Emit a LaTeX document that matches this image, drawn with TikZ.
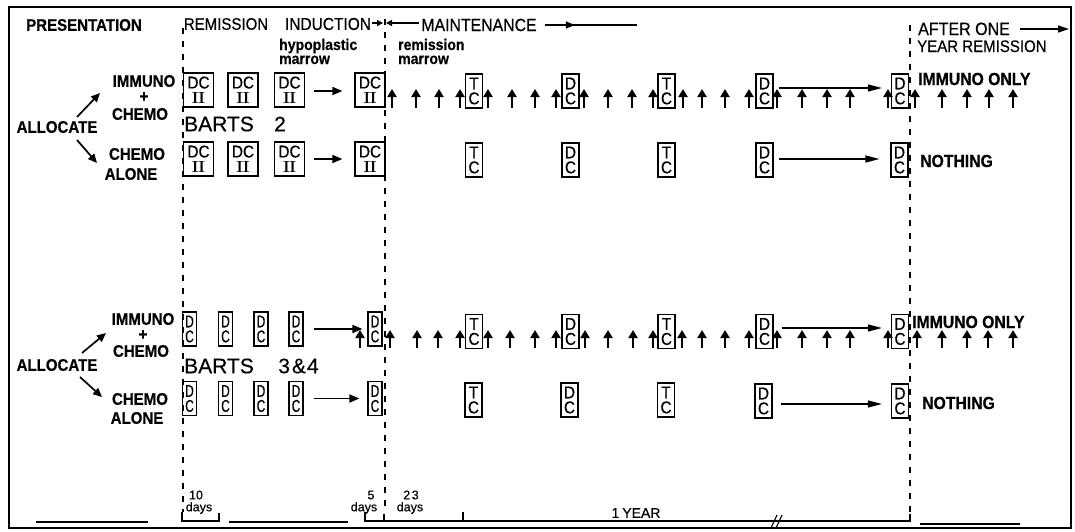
\documentclass[tikz,border=0pt]{standalone}
\usepackage{fontspec}
\newfontfamily\lib[FakeBold=0.35]{Liberation Sans}
\newfontfamily\libc[FakeStretch=0.9,FakeBold=0.4]{Liberation Sans}
\newfontfamily\narr[FakeStretch=0.7,FakeBold=0.4]{Liberation Sans}
\usetikzlibrary{arrows.meta}
\newcommand\fsz[1]{\fontsize{#1}{#1}\selectfont}
\newcommand\dcii{DC\\[0pt]{\rmfamily\bfseries\fontsize{16}{16}\selectfont I\kern-0.4pt I}}
\begin{document}
\begin{tikzpicture}[x=1pt,y=-1pt,
  frame/.style={line width=1.6pt},
  vdash/.style={line width=1.3pt, dash pattern=on 6pt off 7pt},
  tline/.style={line width=1.3pt},
  lab/.style={inner sep=0pt, font=\libc\fsz{16.7}},
  blab/.style={inner sep=0pt, font=\libc\bfseries\fsz{16.7}},
  boxw/.style={draw, line width=1.2pt, inner sep=0pt, minimum width=30pt, minimum height=34pt, align=center, font=\libc\fontsize{17}{15}\selectfont},
  boxm/.style={boxw, minimum width=17pt},
  boxn/.style={boxw, minimum width=14pt, font=\narr\fontsize{17}{15}\selectfont},
  uparr/.style={line width=2.2pt, -{Triangle[length=8pt,width=9pt]}},
  harr/.style={line width=1.7pt, -{Triangle[length=10pt,width=8pt]}},
  larr/.style={line width=1.2pt, -{Triangle[length=14pt,width=7pt]}},
  darr/.style={line width=1.7pt, -{Triangle[length=9pt,width=8pt]}},
  sarr/.style={line width=1.3pt, -{Triangle[length=6pt,width=6pt]}},
]
\useasboundingbox (0,0) rectangle (1075,531);
\draw[frame] (9,7) rectangle (1071,528);

% ---------- headings ----------
\node[blab] (pres) at (84,25) {PRESENTATION};
\node[lab] (rem) at (226,24) {REMISSION};
\node[lab, font=\libc\fsz{17.2}] (ind) at (328,24) {INDUCTION};
\node[lab, font=\libc\fsz{17.6}] (maint) at (479,25) {MAINTENANCE};
\coordinate (ie) at (383,23);
\coordinate (ms) at (386,23);
\draw[sarr] ([xshift=1pt]ind.east |- ie) -- (ie);
\draw[sarr] ([xshift=-2pt]maint.west |- ms) -- (ms);
\coordinate (mle) at (637,25);
\draw[line width=1.3pt] ([xshift=8pt]maint.east) -- (mle);
\draw[line width=1.3pt, -{Triangle[length=9pt,width=7pt]}] ([xshift=8pt]maint.east) -- ([xshift=38pt]maint.east);
\node[lab, font=\libc\fsz{17.8}, anchor=base west] (aft) at (918,35) {AFTER ONE};
\node[lab, anchor=base west] (yr) at (917,52) {YEAR REMISSION};
\coordinate (afe) at (1069,29);
\draw[line width=1.3pt, -{Triangle[length=11pt,width=7pt]}] ([xshift=10pt]aft.east |- afe) -- (afe);
\node[blab, font=\libc\bfseries\fsz{15.6}, anchor=base west] (hyp) at (279,50) {hypoplastic};
\node[blab, font=\libc\bfseries\fsz{15.6}, anchor=base west] (hypm) at (279,64) {marrow};
\node[blab, font=\libc\bfseries\fsz{15.6}, anchor=base west] (rmi) at (398,50) {remission};
\node[blab, font=\libc\bfseries\fsz{15.6}, anchor=base west] (rmm) at (398,64) {marrow};

% ---------- dashed phase lines ----------
\draw[vdash] (183,28) -- (183,512);
\draw[vdash] (385,19) -- (385,513);
\draw[vdash] (910,25) -- (910,515);

% ---------- BARTS 2 ----------
\node[blab] (al1) at (57,127) {ALLOCATE};
\node[blab] (im1) at (144,81) {IMMUNO};
\node[blab] (pl1) at (144,97) {+};
\node[blab] (ch1) at (140,114) {CHEMO};
\node[blab] (ch2) at (137,154) {CHEMO};
\node[blab] (ao1) at (131,174) {ALONE};
\coordinate (u1s) at (77,117); \coordinate (u1e) at (100,93);
\coordinate (d1s) at (77,140); \coordinate (d1e) at (97,163);
\draw[darr] (u1s) -- (u1e);
\draw[darr] (d1s) -- (d1e);
\node[lab, font=\lib\fsz{21}, anchor=west] (b2) at (184,124) {BARTS};
\node[lab, font=\lib\fsz{21}] (b2n) at (280,124) {2};

\node[boxw] (a1) at (198.5,90) {\dcii};
\node[boxw] (a2) at (243,90) {\dcii};
\node[boxw] (a3) at (289.5,90) {\dcii};
\node[boxw] (a4) at (370,90) {\dcii};
\draw[harr] ([xshift=8.5pt,yshift=-1pt]a3.east) -- ([xshift=-12pt,yshift=-1pt]a4.west);
\node[boxm] (am1) at (474,91) {T\\C};
\node[boxm] (am2) at (570.5,91) {D\\C};
\node[boxm] (am3) at (666.5,91) {T\\C};
\node[boxm] (am4) at (764.5,91) {D\\C};
\node[boxm] (am5) at (900,91) {D\\C};
\foreach \x in {392,416,439,460,488,512,535,556,584,608,632,653,683,702,725,749,777,802,827,850,888,915,942,967,989,1013}
  \draw[uparr] (\x,108) -- (\x,89);
\draw[larr] ([xshift=5pt,yshift=3pt]am4.east) -- ([xshift=-9pt,yshift=3pt]am5.west);
\node[blab, font=\libc\bfseries\fsz{17.5}, anchor=west] (io1) at (918,79) {IMMUNO ONLY};

\node[boxw] (b1) at (198.5,159) {\dcii};
\node[boxw] (b2b) at (243,159) {\dcii};
\node[boxw] (b3) at (289.5,159) {\dcii};
\node[boxw] (b4) at (370,159) {\dcii};
\draw[harr] ([xshift=8.5pt]b3.east) -- ([xshift=-12pt]b4.west);
\node[boxm] (bm1) at (474,160) {T\\C};
\node[boxm] (bm2) at (570.5,160) {D\\C};
\node[boxm] (bm3) at (666.5,160) {T\\C};
\node[boxm] (bm4) at (764.5,160) {D\\C};
\node[boxm] (bm5) at (899.5,160) {D\\C};
\draw[larr] ([xshift=5pt,yshift=1pt]bm4.east) -- ([xshift=-11pt,yshift=1pt]bm5.west);
\node[blab, font=\libc\bfseries\fsz{17.5}, anchor=west] (no1) at (920,161) {NOTHING};

% ---------- BARTS 3 & 4 ----------
\node[blab] (al2) at (57,365) {ALLOCATE};
\node[blab] (im2) at (143,319) {IMMUNO};
\node[blab] (pl2) at (143,335) {+};
\node[blab] (ch3) at (141,351) {CHEMO};
\node[blab] (ch4) at (140,399) {CHEMO};
\node[blab] (ao2) at (137,418) {ALONE};
\coordinate (u2s) at (82,353); \coordinate (u2e) at (106,333);
\coordinate (d2s) at (80,377); \coordinate (d2e) at (102,397);
\draw[darr] (u2s) -- (u2e);
\draw[darr] (d2s) -- (d2e);
\node[lab, font=\lib\fsz{21}, anchor=west] (b34) at (184,366) {BARTS};
\node[lab, font=\lib\fsz{21}] (b34n) at (298.5,366) {3\kern2pt\&\kern1pt 4};

\node[boxn] (c1) at (189.5,329) {D\\C};
\node[boxn] (c2) at (225.5,329) {D\\C};
\node[boxn] (c3) at (261,329) {D\\C};
\node[boxn] (c4) at (296,329) {D\\C};
\node[boxn] (c5) at (375,329) {D\\C};
\draw[harr] ([xshift=10pt]c4.east) -- ([xshift=-5pt]c5.west);
\node[boxm] (cm1) at (474,331.5) {T\\C};
\node[boxm] (cm2) at (570.5,331.5) {D\\C};
\node[boxm] (cm3) at (666.5,331.5) {T\\C};
\node[boxm] (cm4) at (764.5,331.5) {D\\C};
\node[boxm] (cm5) at (900,331.5) {D\\C};
\foreach \x in {360,390,417,438,460,488,510,535,556,585,608,633,653,682,702,725,749,777,802,827,850,888,917,942,967,988,1013}
  \draw[uparr] (\x,348) -- (\x,330);
\draw[larr] ([xshift=8pt,yshift=3.5pt]cm4.east) -- ([xshift=-9pt,yshift=3.5pt]cm5.west);
\node[blab, font=\libc\bfseries\fsz{17.5}, anchor=west] (io2) at (912,322) {IMMUNO ONLY};

\node[boxn] (d1) at (189.5,398.5) {D\\C};
\node[boxn] (d2) at (225.5,398.5) {D\\C};
\node[boxn] (d3) at (261,398.5) {D\\C};
\node[boxn] (d4) at (296,398.5) {D\\C};
\node[boxn] (d5) at (375,398.5) {D\\C};
\draw[harr] ([xshift=10pt]d4.east) -- ([xshift=-8pt]d5.west);
\node[boxm] (dm1) at (473.5,400) {T\\C};
\node[boxm] (dm2) at (569.5,400) {D\\C};
\node[boxm] (dm3) at (666,400) {T\\C};
\node[boxm] (dm4) at (763.5,401) {D\\C};
\node[boxm] (dm5) at (900,401) {D\\C};
\draw[larr] ([xshift=8pt,yshift=-3pt]dm4.east) -- ([xshift=-9pt,yshift=-3pt]dm5.west);
\node[blab, font=\libc\bfseries\fsz{17.5}, anchor=west] (no2) at (922,403) {NOTHING};

% ---------- time scale ----------
\draw[tline] (36,522) -- (148,522);
\draw[tline] (182,512) -- (182,521) -- (219,521) -- (219,513);
\draw[tline] (229,522) -- (348,522);
\draw[tline] (365,512) -- (365,521) -- (910,521) -- (910,514);
\draw[tline] (384,514) -- (384,521);
\draw[tline] (463,512) -- (463,521);
\draw[line width=1.1pt] (771,528) -- (777,515);
\draw[line width=1.1pt] (776,528) -- (782,515);
\draw[tline] (920,524) -- (1020,524);
\node[lab, font=\lib\fsz{12.5}] (t10) at (196,495) {10};
\node[lab, font=\lib\fsz{12.5}] (t10d) at (199,508) {days};
\node[lab, font=\lib\fsz{12.5}] (t5) at (371,495) {5};
\node[lab, font=\lib\fsz{12.5}] (t5d) at (364,508) {days};
\node[lab, font=\lib\fsz{12.5}] (t23) at (411,495) {2\kern1.5pt 3};
\node[lab, font=\lib\fsz{12.5}] (t23d) at (410,508) {days};
\node[lab, font=\lib\fsz{14}] (t1y) at (636,513) {1\kern3pt YEAR};
\end{tikzpicture}
\end{document}
